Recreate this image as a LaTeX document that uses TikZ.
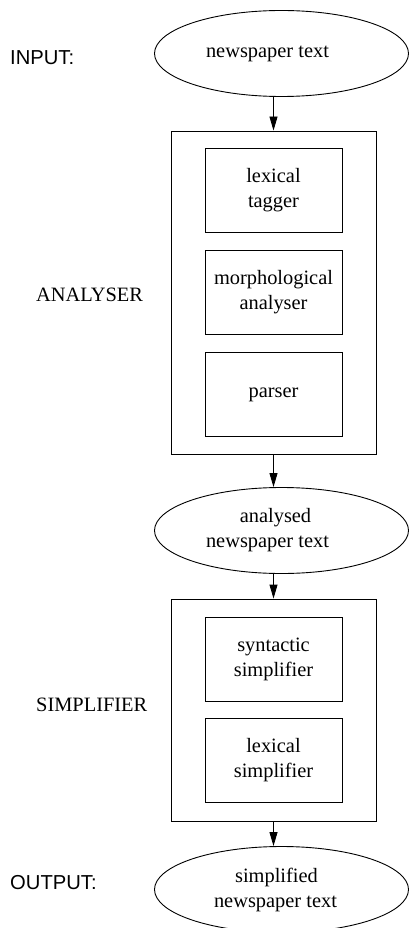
\documentclass[tikz,border=0pt]{standalone}
\usepackage{fontspec}
\setmainfont{Liberation Serif}
\newfontfamily\lsans{Liberation Sans}
\usetikzlibrary{shapes.geometric,arrows.meta}
\newcommand\shiftx[2]{\hspace*{#1}#2}
\tikzset{
  x=1pt,y=1pt,
  txt/.style={font=\fontsize{20.4}{25}\selectfont, align=center},
  ell/.style={txt, draw, ellipse, line width=0.9pt, minimum width=254pt, minimum height=86pt, inner sep=0pt},
  outer/.style={draw, line width=0.9pt, minimum width=205pt, inner sep=0pt},
  inner/.style={txt, draw, line width=0.9pt, minimum width=137pt, minimum height=84pt, inner sep=0pt},
  lab/.style={font=\fontsize{20.4}{25}\selectfont, anchor=west, inner sep=0pt},
  sanslab/.style={lab, font=\lsans\fontsize{20.2}{25}\selectfont},
  arr/.style={-{Triangle[length=14pt,width=8pt]}, line width=0.9pt}
}
\begin{document}
\begin{tikzpicture}
\useasboundingbox (0,0) rectangle (409,-928);
% labels
\node[sanslab] (lin) at (10,-58) {INPUT:};
\node[lab] (lan) at (36,-295) {ANALYSER};
\node[lab] (lsi) at (36,-705) {SIMPLIFIER};
\node[sanslab] (lout) at (10,-883) {OUTPUT:};
% ellipses
\node[ell] (e1) at (281.5,-53.5) {\shiftx{-28pt}{newspaper text}};
\node[ell] (e2) at (281.5,-530.5) {\shiftx{-12pt}{analysed}\\\shiftx{-28pt}{newspaper text}};
\node[ell] (e3) at (281.5,-889.5) {\shiftx{-10pt}{simplified}\\\shiftx{-12pt}{newspaper text}};
% analyser
\node[outer, minimum height=323pt] (o1) at (273.5,-292.5) {};
\node[inner] (b1) at (273.5,-190) {lexical\\tagger};
\node[inner] (b2) at (273.5,-292.5) {morphological\\analyser};
\node[inner] (b3) at (273.5,-394.5) {parser};
% simplifier
\node[outer, minimum height=222pt] (o2) at (273.5,-710) {};
\node[inner] (s1) at (273.5,-659) {syntactic\\simplifier};
\node[inner] (s2) at (273.5,-760.5) {lexical\\simplifier};
% arrows
\draw[arr] (o1.north |- e1.south) -- (o1.north);
\draw[arr] (o1.south) -- (o1.south |- e2.north);
\draw[arr] (o2.north |- e2.south) -- (o2.north);
\draw[arr] (o2.south) -- (o2.south |- e3.north);
\end{tikzpicture}
\end{document}
